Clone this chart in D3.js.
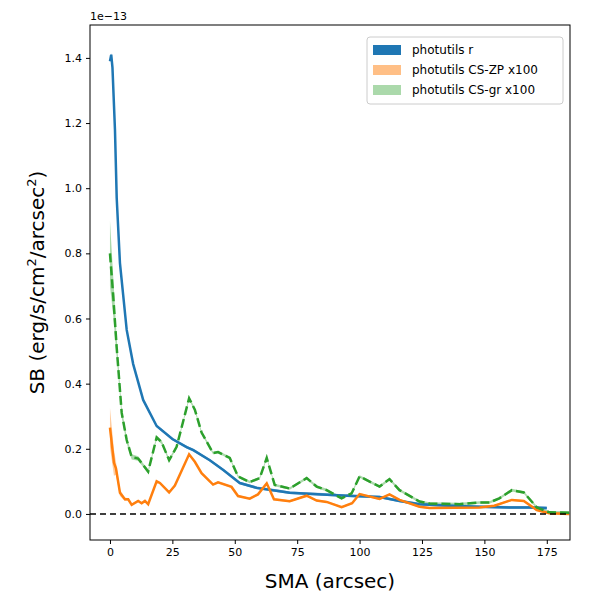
<!DOCTYPE html>
<html><head><meta charset="utf-8">
<script src="https://cdn.jsdelivr.net/npm/d3@7"></script>
<style>body{margin:0;background:#fff}text{font-family:"DejaVu Sans",sans-serif}</style>
</head><body><svg id="c" width="600" height="600"></svg>
<script>
// values in units of 1e-13
const blueX = [0,0.5,1,2,2.7,4,6.7,9.3,13.3,18.7,25,30.7,33.4,40,45.4,52,58.8,68,72,85,95,108,116,124,136,148,160,168,175];
const blueY = [1.39,1.41,1.37,1.18,0.97,0.77,0.565,0.46,0.35,0.27,0.23,0.205,0.196,0.165,0.135,0.095,0.08,0.07,0.065,0.06,0.056,0.052,0.04,0.03,0.025,0.022,0.02,0.02,0.018];
const greenX = [0,1.3,2.7,4.7,6.7,8.7,11.3,13.3,15.3,18.7,20.7,23.7,26.7,31.7,34,36.7,41.3,43.3,48,51.3,56,60,62.8,66,72,78.8,82.8,86.8,92.8,96.8,100,108,112,116,124,128,140,148,152,156,161,165.8,171,176,184];
const greenY = [0.80,0.67,0.51,0.31,0.227,0.175,0.17,0.15,0.13,0.235,0.22,0.165,0.206,0.355,0.32,0.25,0.187,0.19,0.172,0.115,0.098,0.11,0.172,0.089,0.078,0.11,0.084,0.073,0.048,0.063,0.115,0.084,0.107,0.073,0.038,0.032,0.03,0.035,0.035,0.048,0.073,0.066,0.02,0.005,0.004];
const greenErr = [0.1,0.06,0.03,0.015,0.01,0.008,0.007,0.006,0.006,0.006,0.006,0.005,0.005,0.005,0.005,0.005,0.004,0.004,0.004,0.004,0.004,0.004,0.004,0.004,0.004,0.004,0.004,0.004,0.004,0.004,0.004,0.004,0.004,0.004,0.004,0.004,0.004,0.004,0.004,0.004,0.004,0.004,0.004,0.004,0.004];
const orangeX = [0,1.6,2.4,4,6,7.3,8.7,11.3,12.7,14,15.3,18.7,20,23.7,26,31.7,34,36.7,41.3,43.3,48.7,51.3,56,59.3,62.8,65.7,72,78.8,82.8,86.8,92.8,97,100,108,112,116,124,128,148,154,161,165.8,171,176,184];
const orangeY = [0.265,0.157,0.14,0.065,0.045,0.045,0.028,0.04,0.033,0.04,0.03,0.1,0.095,0.066,0.087,0.183,0.16,0.125,0.09,0.097,0.083,0.055,0.047,0.06,0.094,0.045,0.039,0.056,0.041,0.037,0.021,0.033,0.061,0.046,0.06,0.043,0.022,0.018,0.02,0.025,0.043,0.04,0.012,0.002,0];
const orangeErr = [0.06,0.04,0.02,0.01,0.005,0.004,0.003,0.003,0.003,0.003,0.003,0.003,0.003,0.003,0.003,0.003,0.003,0.003,0.003,0.003,0.003,0.003,0.003,0.003,0.003,0.003,0.003,0.003,0.003,0.003,0.003,0.003,0.003,0.003,0.003,0.003,0.003,0.003,0.003,0.003,0.003,0.003,0.003,0.003,0.003];
const legendLabels = ["photutils r","photutils CS-ZP x100","photutils CS-gr x100"];

const svg = d3.select("#c");
const L = 90, R = 570, T = 25, B = 540;
const x = d3.scaleLinear().domain([-8, 184.3]).range([L, R]);
const y = d3.scaleLinear().domain([-0.08, 1.501]).range([B, T]);

svg.append("defs").append("clipPath").attr("id","clip")
  .append("rect").attr("x",L).attr("y",T).attr("width",R-L).attr("height",B-T);
const g = svg.append("g").attr("clip-path","url(#clip)");

function band(xs, ys, es, col, op) {
  const pts = xs.map((v,i) => [v, ys[i], es[i]]);
  g.append("path").attr("d", d3.area().x(d=>x(d[0])).y0(d=>y(d[1]-d[2])).y1(d=>y(d[1]+d[2]))(pts))
    .attr("fill", col).attr("opacity", op);
}
band(greenX, greenY, greenErr, "#2ca02c", 0.4);
band(orangeX, orangeY, orangeErr, "#ff7f0e", 0.4);
band(blueX, blueY, blueX.map(()=>0.004), "#1f77b4", 0.6);

const line = d3.line().x(d=>x(d[0])).y(d=>y(d[1]));
g.append("path").attr("d", line(blueX.map((v,i)=>[v,blueY[i]]))).attr("fill","none").attr("stroke","#1f77b4").attr("stroke-width",2.5);
g.append("path").attr("d", line(orangeX.map((v,i)=>[v,orangeY[i]]))).attr("fill","none").attr("stroke","#ff7f0e").attr("stroke-width",2.5);
g.append("path").attr("d", line(greenX.map((v,i)=>[v,greenY[i]]))).attr("fill","none").attr("stroke","#2ca02c").attr("stroke-width",2.5).attr("stroke-dasharray","9,4");
g.append("line").attr("x1",L).attr("x2",R).attr("y1",y(0)).attr("y2",y(0)).attr("stroke","#000").attr("stroke-width",1.5).attr("stroke-dasharray","6,4");

svg.append("g").attr("transform",`translate(0,${B})`)
  .call(d3.axisBottom(x).tickValues(d3.range(0,176,25)).tickSize(4).tickPadding(4))
  .call(a=>a.selectAll("text").attr("font-size",11).attr("fill","#000"));
svg.append("g").attr("transform",`translate(${L},0)`)
  .call(d3.axisLeft(y).tickValues(d3.range(0,1.41,0.2)).tickFormat(d3.format(".1f")).tickSize(4).tickPadding(4))
  .call(a=>a.selectAll("text").attr("font-size",11).attr("fill","#000"));
svg.selectAll(".domain").remove();
svg.append("rect").attr("x",L).attr("y",T).attr("width",R-L).attr("height",B-T).attr("fill","none").attr("stroke","#000").attr("stroke-width",1);

svg.append("text").attr("x",L).attr("y",T-5).attr("font-size",11).text("1e\u221213");
svg.append("text").attr("x",(L+R)/2).attr("y",588).attr("text-anchor","middle").attr("font-size",20).text("SMA (arcsec)");
const yl = svg.append("text").attr("transform",`translate(44,${(T+B)/2}) rotate(-90)`).attr("text-anchor","middle").attr("font-size",20);
yl.append("tspan").text("SB (erg/s/cm");
yl.append("tspan").attr("font-size",13).attr("dy",-8).text("2");
yl.append("tspan").attr("dy",8).text("/arcsec");
yl.append("tspan").attr("font-size",13).attr("dy",-8).text("2");
yl.append("tspan").attr("dy",8).text(")");

const lg = svg.append("g").attr("transform","translate(367,37)");
lg.append("rect").attr("width",196).attr("height",67).attr("rx",3).attr("fill","#fff").attr("stroke","#ccc");
const cols = ["#1f77b4","#ff7f0e","#2ca02c"], ops = [1,0.5,0.4];
legendLabels.forEach((t,i)=>{
  lg.append("rect").attr("x",6).attr("y",8+i*20).attr("width",28).attr("height",10).attr("fill",cols[i]).attr("opacity",ops[i]);
  lg.append("text").attr("x",45).attr("y",17+i*20).attr("font-size",12).text(t);
});
</script></body></html>
